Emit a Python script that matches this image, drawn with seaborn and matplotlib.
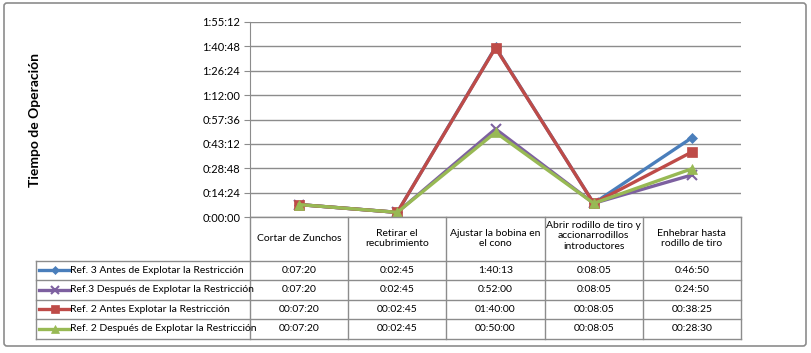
import numpy as np
import pandas as pd
import matplotlib.pyplot as plt
import seaborn as sns
from matplotlib.patches import FancyBboxPatch
from matplotlib.lines import Line2D

# categories (table header) and series
categorias = ["Cortar de Zunchos", "Retirar el\nrecubrimiento", "Ajustar la bobina en\nel cono",
              "Abrir rodillo de tiro y\naccionarrodillos\nintroductores", "Enhebrar hasta\nrodillo de tiro"]
series = ["Ref. 3 Antes de Explotar la Restricción", "Ref.3 Después de Explotar la Restricción",
          "Ref. 2 Antes Explotar la Restricción", "Ref. 2 Después de Explotar la Restricción"]
ref3_antes = ["0:07:20", "0:02:45", "1:40:13", "0:08:05", "0:46:50"]
ref3_despues = ["0:07:20", "0:02:45", "0:52:00", "0:08:05", "0:24:50"]
ref2_antes = ["00:07:20", "00:02:45", "01:40:00", "00:08:05", "00:38:25"]
ref2_despues = ["00:07:20", "00:02:45", "00:50:00", "00:08:05", "00:28:30"]
tabla = [ref3_antes, ref3_despues, ref2_antes, ref2_despues]

colores = ["#4A7EBB", "#7D60A0", "#BE4B48", "#98B954"]
marcadores = ["D", "x", "s", "^"]
tamanos = [5, 7, 7, 7]


def a_seg(t):
    h, m, s = [int(v) for v in t.split(":")]
    return h * 3600 + m * 60 + s


def fmt(v, pos=None):
    v = int(round(v))
    return "%d:%02d:%02d" % (v // 3600, (v % 3600) // 60, v % 60)


filas = []
for nombre, vals in zip(series, tabla):
    for i, t in enumerate(vals):
        filas.append({"serie": nombre, "paso": i, "seg": a_seg(t)})
df = pd.DataFrame(filas)

W, H = 811, 353
fig = plt.figure(figsize=(W / 100, H / 100), dpi=100)
plt.rcParams['font.family'] = ['Lato', 'DejaVu Sans']

x0, x1, ytop, ybot = 250, 741, 22, 217
ax = fig.add_axes([x0 / W, 1 - ybot / H, (x1 - x0) / W, (ybot - ytop) / H])

for nombre, c, m, ms in zip(series, colores, marcadores, tamanos):
    sub = df[df.serie == nombre]
    sns.lineplot(data=sub, x="paso", y="seg", ax=ax, color=c, marker=m, markersize=ms,
                 linewidth=2.4, markeredgecolor=c, markeredgewidth=1.5 if m == "x" else 0.5,
                 sort=False, legend=False, zorder=3)

paso_y = 864
ax.set_xlim(-0.5, 4.5)
ax.set_ylim(0, 8 * paso_y)
ax.set_yticks(np.arange(0, 9) * paso_y)
ax.yaxis.set_major_formatter(plt.FuncFormatter(fmt))
ax.set_xticks([])
ax.set_xlabel("")
ax.set_ylabel("")
ax.grid(axis="y", color="#8C8C8C", linewidth=1)
ax.set_axisbelow(True)
for s in ["top", "right", "bottom"]:
    ax.spines[s].set_visible(False)
ax.spines["left"].set_color("#8C8C8C")
ax.tick_params(axis="y", length=4, color="#8C8C8C", labelsize=8, pad=3)
ax.patch.set_alpha(0)

fig.text(35 / W, 1 - 120 / H, "Tiempo de Operación", rotation=90, ha="center", va="center",
         fontsize=10, fontweight="bold")

# table overlay in pixel coordinates
ov = fig.add_axes([0, 0, 1, 1], zorder=-1)
ov.set_xlim(0, W)
ov.set_ylim(H, 0)
ov.axis("off")
ov.add_patch(FancyBboxPatch((4, 3), 802, 343, boxstyle="round,pad=0,rounding_size=3",
                            fill=False, edgecolor="#8C8C8C", linewidth=1.2))

ov2 = fig.add_axes([0, 0, 1, 1], zorder=5)
ov2.set_xlim(0, W)
ov2.set_ylim(H, 0)
ov2.axis("off")
ov2.patch.set_alpha(0)

lc = "#8C8C8C"
colw = (x1 - x0) / len(categorias)
yh = 260.5
rowh = 19.5
yb = yh + rowh * len(series)
xl = 36
ov2.plot([x0, x1], [ybot, ybot], color=lc, lw=1)
ov2.plot([xl, x1], [yb, yb], color=lc, lw=1)
for k in range(len(series)):
    ov2.plot([xl, x1], [yh + k * rowh, yh + k * rowh], color=lc, lw=1)
ov2.plot([xl, xl], [yh, yb], color=lc, lw=1)
for j in range(len(categorias) + 1):
    ov2.plot([x0 + j * colw] * 2, [ybot, yb], color=lc, lw=1)

for j, cat in enumerate(categorias):
    cx = x0 + (j + 0.5) * colw
    ov2.text(cx, (ybot + yh) / 2 - (3 if cat.count("\n") == 2 else 0), cat, ha="center",
             va="center", fontsize=7.5, linespacing=1.2)
for k, (nombre, vals) in enumerate(zip(series, tabla)):
    cy = yh + (k + 0.5) * rowh
    ov2.add_line(Line2D([39, 70], [cy, cy], color=colores[k], lw=2.4))
    ov2.plot([55], [cy], marker=marcadores[k], color=colores[k], markersize=tamanos[k] - 1,
             markeredgewidth=1.5 if marcadores[k] == "x" else 0.5)
    ov2.text(70, cy, nombre, ha="left", va="center", fontsize=7.5)
    for j, v in enumerate(vals):
        ov2.text(x0 + (j + 0.5) * colw, cy, v, ha="center", va="center", fontsize=7.5)

fig.savefig("out.png", dpi=100)
